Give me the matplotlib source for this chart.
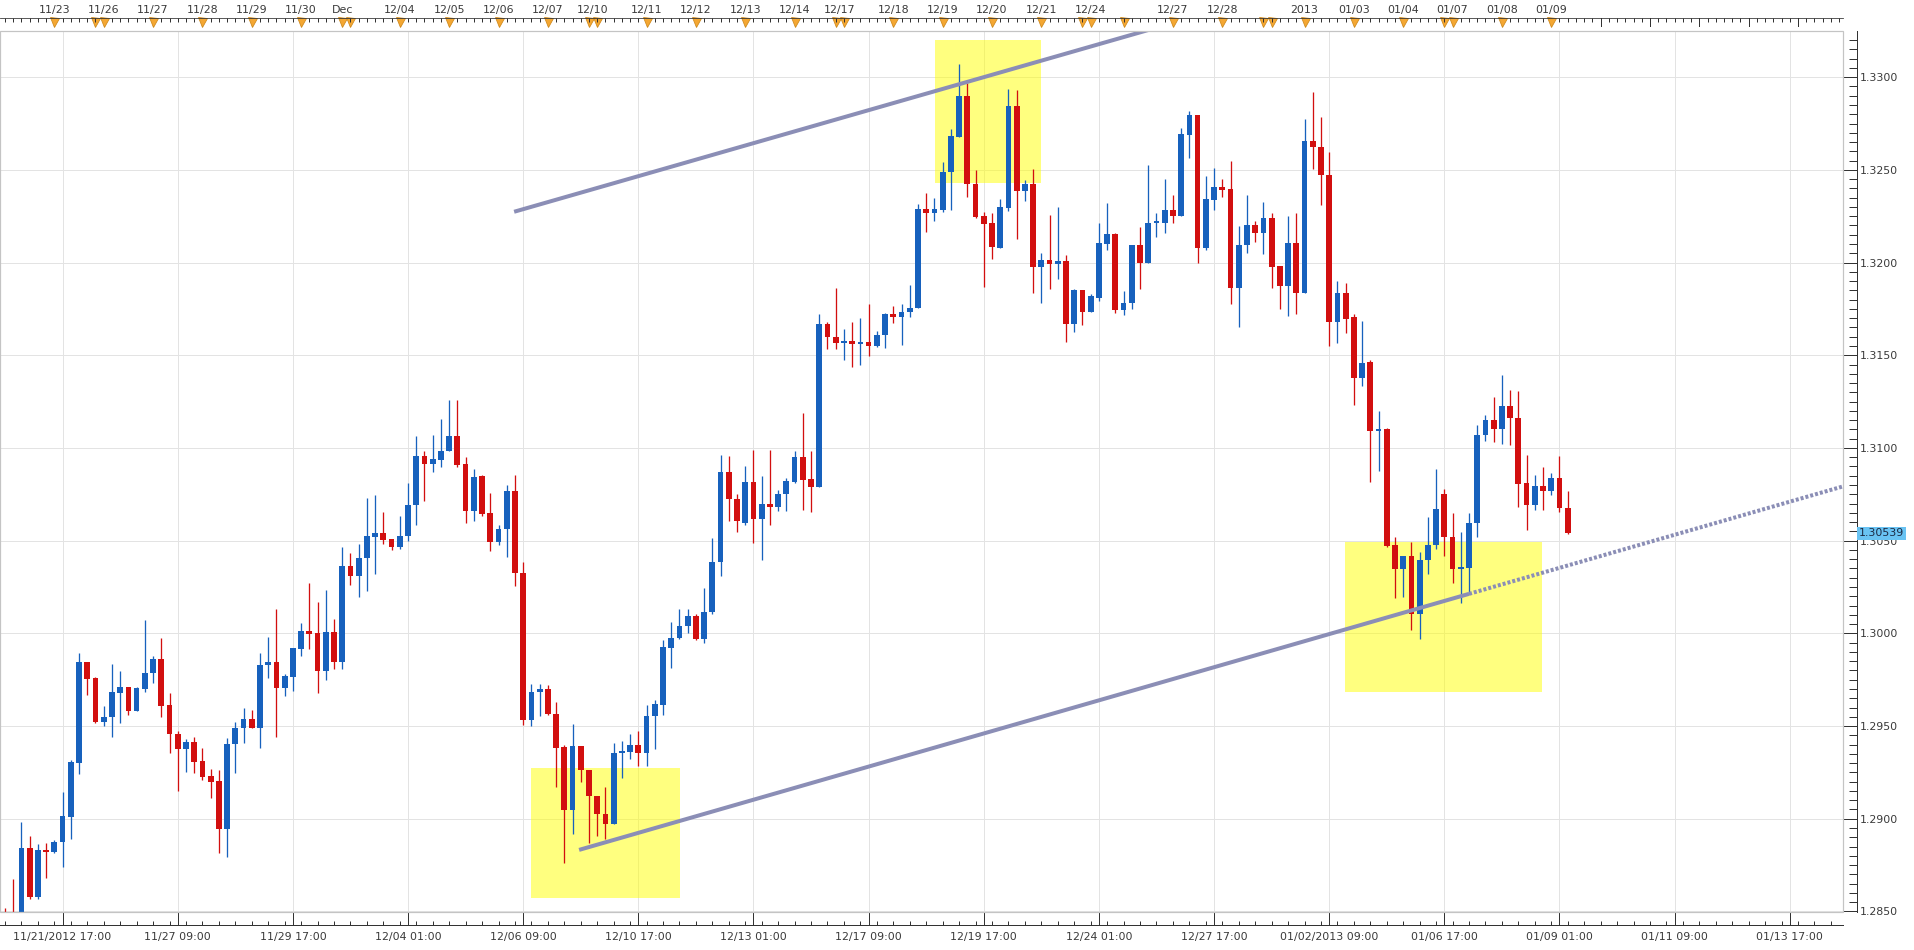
import numpy as np
import matplotlib
matplotlib.use("Agg")
import matplotlib.pyplot as plt
from matplotlib.patches import Rectangle
from matplotlib.ticker import FixedLocator, MultipleLocator, FixedFormatter

# ---------------- data (4-hour EUR/USD candles) ----------------
opens = [1.28490, 1.28490, 1.28460, 1.28844, 1.28580, 1.28830, 1.28822, 1.28873, 1.29011, 1.29302,
         1.29845, 1.29759, 1.29524, 1.29547, 1.29680, 1.29709, 1.29583, 1.29700, 1.29784, 1.29862,
         1.29612, 1.29459, 1.29374, 1.29414, 1.29311, 1.29230, 1.29203, 1.28943, 1.29401, 1.29488,
         1.29538, 1.29491, 1.29827, 1.29847, 1.29707, 1.29766, 1.29917, 1.30014, 1.30000, 1.29799,
         1.30008, 1.29844, 1.30365, 1.30308, 1.30407, 1.30520, 1.30542, 1.30509, 1.30464, 1.30524,
         1.30691, 1.30959, 1.30914, 1.30937, 1.30982, 1.31067, 1.30915, 1.30658, 1.30847, 1.30649,
         1.30491, 1.30563, 1.30770, 1.30326, 1.29531, 1.29684, 1.29700, 1.29566, 1.29387, 1.29046,
         1.29391, 1.29265, 1.29125, 1.29026, 1.28972, 1.29355, 1.29360, 1.29396, 1.29355, 1.29553,
         1.29614, 1.29922, 1.29974, 1.30040, 1.30092, 1.29969, 1.30113, 1.30384, 1.30868, 1.30723,
         1.30595, 1.30818, 1.30618, 1.30700, 1.30679, 1.30752, 1.30818, 1.30949, 1.30831, 1.30792,
         1.31670, 1.31599, 1.31567, 1.31578, 1.31562, 1.31572, 1.31551, 1.31607, 1.31722, 1.31704,
         1.31735, 1.31756, 1.32290, 1.32269, 1.32282, 1.32487, 1.32677, 1.32900, 1.32426, 1.32252,
         1.32212, 1.32081, 1.32293, 1.32845, 1.32387, 1.32423, 1.31977, 1.32013, 1.31994, 1.32007,
         1.31668, 1.31853, 1.31734, 1.31811, 1.32099, 1.32153, 1.31745, 1.31781, 1.32095, 1.32000,
         1.32216, 1.32212, 1.32282, 1.32252, 1.32689, 1.32795, 1.32077, 1.32338, 1.32410, 1.32396,
         1.31862, 1.32093, 1.32203, 1.32162, 1.32239, 1.31982, 1.31874, 1.32108, 1.31834, 1.32654,
         1.32624, 1.32474, 1.31678, 1.31838, 1.31704, 1.31378, 1.31464, 1.31094, 1.31104, 1.30474,
         1.30348, 1.30418, 1.30104, 1.30394, 1.30478, 1.30750, 1.30520, 1.30348, 1.30354, 1.30594,
         1.31070, 1.31150, 1.31104, 1.31228, 1.31164, 1.30810, 1.30690, 1.30794, 1.30770, 1.30840,
         1.30674]
highs = [1.28517, 1.28675, 1.28981, 1.28909, 1.28862, 1.28867, 1.28885, 1.29142, 1.29317, 1.29896,
         1.29848, 1.29762, 1.29608, 1.29835, 1.29799, 1.29711, 1.29709, 1.30072, 1.29878, 1.29973,
         1.29676, 1.29473, 1.29428, 1.29439, 1.29380, 1.29268, 1.29263, 1.29437, 1.29524, 1.29599,
         1.29586, 1.29896, 1.29978, 1.30131, 1.29779, 1.29923, 1.30058, 1.30270, 1.30171, 1.30236,
         1.30079, 1.30464, 1.30434, 1.30484, 1.30730, 1.30748, 1.30653, 1.30509, 1.30635, 1.30811,
         1.31063, 1.30986, 1.31072, 1.31158, 1.31257, 1.31257, 1.30951, 1.30887, 1.30856, 1.30757,
         1.30586, 1.30802, 1.30856, 1.30383, 1.29729, 1.29729, 1.29723, 1.29628, 1.29396, 1.29513,
         1.29394, 1.29265, 1.29125, 1.29171, 1.29409, 1.29421, 1.29459, 1.29472, 1.29616, 1.29643,
         1.29964, 1.30061, 1.30134, 1.30134, 1.30105, 1.30245, 1.30516, 1.30963, 1.30955, 1.30752,
         1.30902, 1.30989, 1.30850, 1.30989, 1.30771, 1.30836, 1.30986, 1.31186, 1.30981, 1.31722,
         1.31678, 1.31862, 1.31643, 1.31678, 1.31699, 1.31777, 1.31633, 1.31730, 1.31764, 1.31778,
         1.31880, 1.32314, 1.32374, 1.32348, 1.32545, 1.32721, 1.33071, 1.32966, 1.32500, 1.32275,
         1.32270, 1.32342, 1.32935, 1.32930, 1.32444, 1.32504, 1.32050, 1.32257, 1.32302, 1.32040,
         1.31856, 1.31853, 1.31833, 1.32216, 1.32320, 1.32162, 1.31847, 1.32095, 1.32193, 1.32525,
         1.32266, 1.32450, 1.32365, 1.32728, 1.32815, 1.32795, 1.32468, 1.32509, 1.32450, 1.32549,
         1.32198, 1.32363, 1.32225, 1.32329, 1.32270, 1.31982, 1.32252, 1.32270, 1.32774, 1.32918,
         1.32784, 1.32594, 1.31898, 1.31890, 1.31724, 1.31684, 1.31474, 1.31198, 1.31110, 1.30520,
         1.30418, 1.30494, 1.30438, 1.30630, 1.30888, 1.30780, 1.30650, 1.30544, 1.30650, 1.31124,
         1.31180, 1.31274, 1.31394, 1.31314, 1.31308, 1.30960, 1.30854, 1.30898, 1.30864, 1.30954,
         1.30768]
lows = [1.28400, 1.28400, 1.28430, 1.28565, 1.28565, 1.28682, 1.28813, 1.28741, 1.28889, 1.29239,
        1.29667, 1.29518, 1.29502, 1.29439, 1.29518, 1.29559, 1.29583, 1.29685, 1.29730, 1.29551,
        1.29353, 1.29150, 1.29254, 1.29245, 1.29209, 1.29110, 1.28813, 1.28795, 1.29248, 1.29407,
        1.29488, 1.29380, 1.29757, 1.29443, 1.29664, 1.29689, 1.29880, 1.29914, 1.29676, 1.29750,
        1.29808, 1.29808, 1.30259, 1.30196, 1.30227, 1.30320, 1.30482, 1.30452, 1.30457, 1.30497,
        1.30583, 1.30716, 1.30869, 1.30896, 1.30982, 1.30898, 1.30595, 1.30604, 1.30631, 1.30446,
        1.30475, 1.30410, 1.30254, 1.29508, 1.29499, 1.29553, 1.29558, 1.29171, 1.28761, 1.28918,
        1.29197, 1.28869, 1.28905, 1.28891, 1.28972, 1.29220, 1.29322, 1.29283, 1.29283, 1.29378,
        1.29561, 1.29811, 1.29969, 1.30003, 1.29964, 1.29948, 1.30105, 1.30311, 1.30608, 1.30547,
        1.30587, 1.30489, 1.30397, 1.30587, 1.30660, 1.30660, 1.30810, 1.30665, 1.30652, 1.30792,
        1.31533, 1.31533, 1.31475, 1.31436, 1.31449, 1.31494, 1.31546, 1.31541, 1.31672, 1.31554,
        1.31704, 1.31756, 1.32164, 1.32222, 1.32274, 1.32282, 1.32677, 1.32351, 1.32243, 1.31869,
        1.32018, 1.32077, 1.32279, 1.32126, 1.32333, 1.31838, 1.31784, 1.31860, 1.31910, 1.31572,
        1.31623, 1.31662, 1.31734, 1.31793, 1.32068, 1.31727, 1.31716, 1.31752, 1.31856, 1.32000,
        1.32140, 1.32158, 1.32216, 1.32252, 1.32563, 1.32000, 1.32068, 1.32284, 1.32356, 1.31775,
        1.31650, 1.32054, 1.32113, 1.32045, 1.31862, 1.31748, 1.31712, 1.31720, 1.31834, 1.32504,
        1.32310, 1.31550, 1.31564, 1.31618, 1.31230, 1.31334, 1.30814, 1.30878, 1.30464, 1.30188,
        1.30194, 1.30018, 1.29970, 1.30320, 1.30454, 1.30418, 1.30274, 1.30164, 1.30210, 1.30520,
        1.31040, 1.31034, 1.31024, 1.31018, 1.30684, 1.30560, 1.30664, 1.30664, 1.30744, 1.30654,
        1.30534]
closes = [1.28450, 1.28440, 1.28844, 1.28580, 1.28831, 1.28822, 1.28873, 1.29015, 1.29308, 1.29845,
          1.29755, 1.29524, 1.29549, 1.29682, 1.29709, 1.29583, 1.29705, 1.29784, 1.29862, 1.29610,
          1.29455, 1.29374, 1.29416, 1.29308, 1.29227, 1.29200, 1.28943, 1.29403, 1.29491, 1.29538,
          1.29491, 1.29829, 1.29847, 1.29707, 1.29770, 1.29921, 1.30014, 1.29995, 1.29799, 1.30009,
          1.29844, 1.30365, 1.30308, 1.30407, 1.30524, 1.30542, 1.30506, 1.30464, 1.30527, 1.30694,
          1.30959, 1.30914, 1.30942, 1.30986, 1.31067, 1.30910, 1.30658, 1.30844, 1.30646, 1.30491,
          1.30563, 1.30770, 1.30326, 1.29531, 1.29684, 1.29700, 1.29566, 1.29382, 1.29046, 1.29391,
          1.29265, 1.29121, 1.29026, 1.28972, 1.29355, 1.29360, 1.29396, 1.29355, 1.29553, 1.29619,
          1.29924, 1.29974, 1.30040, 1.30092, 1.29969, 1.30113, 1.30384, 1.30868, 1.30723, 1.30605,
          1.30818, 1.30618, 1.30700, 1.30679, 1.30752, 1.30823, 1.30949, 1.30828, 1.30792, 1.31670,
          1.31599, 1.31565, 1.31578, 1.31559, 1.31572, 1.31551, 1.31607, 1.31722, 1.31704, 1.31735,
          1.31756, 1.32290, 1.32269, 1.32288, 1.32487, 1.32682, 1.32900, 1.32423, 1.32246, 1.32207,
          1.32085, 1.32297, 1.32845, 1.32387, 1.32423, 1.31977, 1.32013, 1.31991, 1.32007, 1.31668,
          1.31853, 1.31734, 1.31820, 1.32104, 1.32153, 1.31745, 1.31784, 1.32095, 1.32000, 1.32216,
          1.32221, 1.32282, 1.32252, 1.32692, 1.32795, 1.32077, 1.32342, 1.32410, 1.32392, 1.31862,
          1.32095, 1.32203, 1.32162, 1.32239, 1.31977, 1.31874, 1.32104, 1.31834, 1.32654, 1.32624,
          1.32474, 1.31678, 1.31838, 1.31698, 1.31378, 1.31458, 1.31094, 1.31104, 1.30470, 1.30348,
          1.30418, 1.30104, 1.30394, 1.30478, 1.30670, 1.30520, 1.30348, 1.30354, 1.30594, 1.31070,
          1.31150, 1.31104, 1.31228, 1.31164, 1.30804, 1.30690, 1.30794, 1.30770, 1.30840, 1.30674,
          1.30539]

last_price_label = "1.30539"

# bottom time axis (bar index positions + labels)
bottom_tick_pos = [7, 21, 35, 49, 63, 77, 91, 105, 119, 133, 147, 161, 175, 189, 203, 217]
bottom_tick_labels = ["11/21/2012 17:00", "11/27 09:00", "11/29 17:00", "12/04 01:00",
                      "12/06 09:00", "12/10 17:00", "12/13 01:00", "12/17 09:00",
                      "12/19 17:00", "12/24 01:00", "12/27 17:00", "01/02/2013 09:00",
                      "01/06 17:00", "01/09 01:00", "01/11 09:00", "01/13 17:00"]

# top date axis
top_label_pos = [6, 12, 18, 24, 30, 36, 41, 48, 54, 60, 66, 71.5, 78, 84, 90, 96, 101.5,
                 108, 114, 120, 126, 132, 142, 148, 158, 164, 170, 176, 182, 188]
top_labels = ["11/23", "11/26", "11/27", "11/28", "11/29", "11/30", "Dec", "12/04", "12/05",
              "12/06", "12/07", "12/10", "12/11", "12/12", "12/13", "12/14", "12/17", "12/18",
              "12/19", "12/20", "12/21", "12/24", "12/27", "12/28", "2013", "01/03", "01/04",
              "01/07", "01/08", "01/09"]
session_marks = [6, 11, 12, 18, 24, 30, 36, 41, 42, 48, 54, 60, 66, 71, 72, 78, 84, 90, 96,
                 101, 102, 108, 114, 120, 126, 131, 132, 136, 142, 148, 153, 154, 158, 164,
                 170, 175, 176, 182, 188]
future_days = [194, 200, 206, 212, 218]

# drawn trend lines (bar index, price)
upper_line_x = [61.9, 140.0]
upper_line_y = [1.32274, 1.33267]
lower_line_x = [69.8, 178.0]
lower_line_y = [1.28832, 1.30213]
lower_ext_x = [178.0, 223.5]
lower_ext_y = [1.30213, 1.30793]

# highlight boxes: (x0, x1, y0, y1)
boxes = [(63.95, 82.07, 1.28573, 1.29274),
         (113.07, 125.96, 1.32429, 1.33201),
         (162.92, 186.87, 1.29684, 1.30493)]

# ---------------- figure ----------------
DPI = 72
W, H = 1914, 950
fig = plt.figure(figsize=(W / DPI, H / DPI), dpi=DPI)
fig.patch.set_facecolor("white")
ax = fig.add_axes([0, 38 / H, 1843 / W, 881 / H])

XMIN, XMAX = -0.61, 223.47
YMIN, YMAX = 1.28497, 1.33249

o = np.array(opens); c = np.array(closes); hi = np.array(highs); lo = np.array(lows)
idx = np.arange(len(o))
up = c >= o
BLUE, RED = "#1761bd", "#d20f0f"
cols = np.where(up, BLUE, RED)

# highlight boxes
for (x0, x1, y0, y1) in boxes:
    ax.add_patch(Rectangle((x0, y0), x1 - x0, y1 - y0, facecolor="#ffff00", alpha=0.5,
                           edgecolor="none", zorder=1))

# candles
ax.vlines(idx, lo, hi, colors=cols, lw=1.3, zorder=2.5)
body_h = np.maximum(np.abs(c - o), 0.00008)
ax.bar(idx, body_h, bottom=np.minimum(o, c), width=0.7, color=cols, linewidth=0, zorder=3)

# trend lines
TL = "#8b8eb6"
ax.plot(upper_line_x, upper_line_y, color=TL, lw=4, solid_capstyle="butt", zorder=4)
ax.plot(lower_line_x, lower_line_y, color=TL, lw=4, solid_capstyle="butt", zorder=4)
ax.plot(lower_ext_x, lower_ext_y, color=TL, lw=4, dashes=(0.75, 0.5),
        dash_capstyle="butt", zorder=4)

ax.set_xlim(XMIN, XMAX)
ax.set_ylim(YMIN, YMAX)

# plot border
ax.add_patch(Rectangle((0, 0), 1, 1, transform=ax.transAxes, fill=False,
                       edgecolor="#c4c4c4", lw=1.2, zorder=5, clip_on=False))

AXC = "#333333"
TXT = "#3a3a3a"
# spines
ax.spines["left"].set_visible(False)
ax.spines["top"].set_visible(False)
for s in ("bottom", "right"):
    ax.spines[s].set_color(AXC)
    ax.spines[s].set_linewidth(1)
ax.spines["bottom"].set_position(("outward", 13))
ax.spines["right"].set_position(("outward", 14))

# bottom x axis
ax.xaxis.set_major_locator(FixedLocator(bottom_tick_pos))
ax.xaxis.set_major_formatter(FixedFormatter(bottom_tick_labels))
ax.xaxis.set_minor_locator(MultipleLocator(2))
ax.tick_params(axis="x", which="major", direction="in", length=13, width=1, color=AXC,
               pad=7, labelsize=11, labelcolor=TXT)
ax.tick_params(axis="x", which="minor", direction="in", length=4, width=1, color=AXC)

# top date axis (twin sharing y)
axt = ax.twiny()
axt.set_xlim(XMIN, XMAX)
for s in ("bottom", "left", "right"):
    axt.spines[s].set_visible(False)
axt.spines["top"].set_position(("outward", 13))
axt.spines["top"].set_color(AXC)
axt.xaxis.set_major_locator(FixedLocator(top_label_pos))
axt.xaxis.set_major_formatter(FixedFormatter(top_labels))
axt.xaxis.set_minor_locator(MultipleLocator(1))
axt.tick_params(axis="x", which="major", direction="in", length=0, pad=3,
                labelsize=11, labelcolor=TXT)
axt.tick_params(axis="x", which="minor", direction="in", length=4, width=1, color=AXC)

# y axis on right (set after twin creation)
ax.yaxis.tick_right()
yt = np.arange(1.2850, 1.33001, 0.005)
ax.yaxis.set_major_locator(FixedLocator(yt))
ax.yaxis.set_major_formatter(FixedFormatter([f"{v:.4f}" for v in yt]))
ax.yaxis.set_minor_locator(MultipleLocator(0.0005))
ax.tick_params(axis="y", which="major", direction="in", length=14, width=1, color=AXC,
               pad=3, labelsize=11, labelcolor=TXT, right=True, left=False,
               labelright=True, labelleft=False)
ax.tick_params(axis="y", which="minor", direction="in", length=8, width=1, color=AXC,
               right=True, left=False)

ax.set_axisbelow(True)
ax.grid(True, which="major", color="#e3e3e3", lw=1)

# taller day ticks and session markers on the top axis
trans = ax.get_xaxis_transform()
top_spine_y = 1 + 13 / 881
for xd in future_days + session_marks:
    ax.plot([xd, xd], [top_spine_y, top_spine_y - 8 / 881], color=AXC, lw=1,
            transform=trans, clip_on=False, zorder=6)
ax.plot(session_marks, [top_spine_y - 4.5 / 881] * len(session_marks), linestyle="none",
        marker="v", markersize=9, markerfacecolor="#f4a732", markeredgecolor="#d08a1c",
        markeredgewidth=0.8, transform=trans, clip_on=False, zorder=7)

# last price tag
ax.text(1859 / 1843, closes[-1], last_price_label, transform=ax.get_yaxis_transform(),
        ha="left", va="center", fontsize=11, color="#1c2a44", zorder=10, clip_on=False,
        bbox=dict(boxstyle="square,pad=0.15", facecolor="#69c3f3", edgecolor="none"))

fig.savefig("out.png", dpi=DPI, facecolor="white")
